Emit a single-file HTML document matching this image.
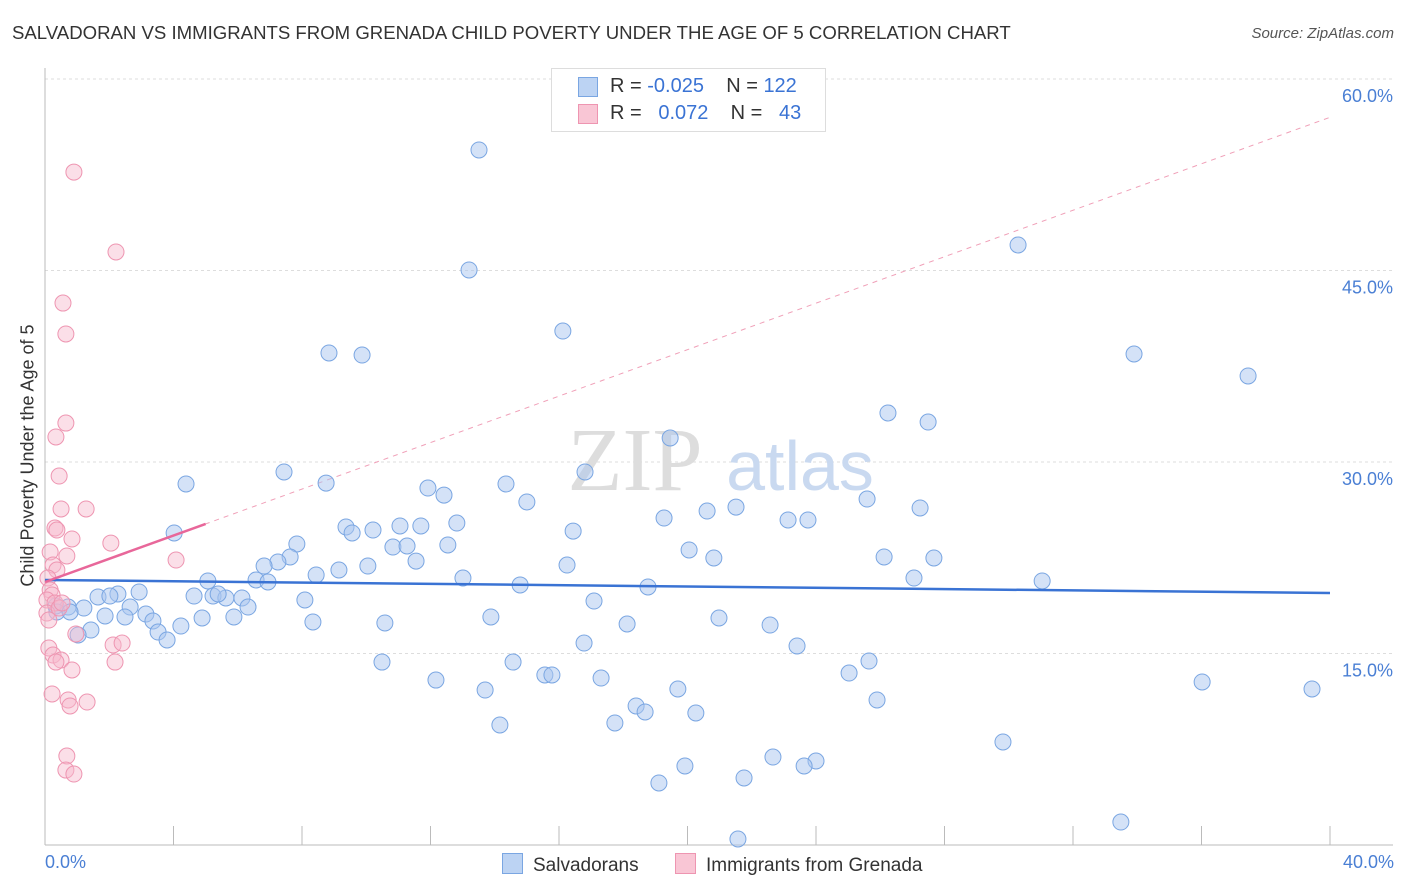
<!DOCTYPE html>
<html><head><meta charset="utf-8"><style>
body{margin:0;background:#fff;font-family:"Liberation Sans",sans-serif;}
#wrap{position:relative;width:1406px;height:892px;overflow:hidden;}
.t{position:absolute;white-space:nowrap;}
</style></head><body>
<div id="wrap">
<div class="t" style="left:12px;top:22px;font-size:18.6px;color:#333;">SALVADORAN VS IMMIGRANTS FROM GRENADA CHILD POVERTY UNDER THE AGE OF 5 CORRELATION CHART</div>
<div class="t" style="right:12px;top:25px;font-size:15px;color:#555;font-style:italic;">Source: ZipAtlas.com</div>
<svg id="svg" width="1406" height="892" style="position:absolute;left:0;top:0"></svg>
</div>
<script>
const blueX=[13.51,13.2,16.12,8.84,9.87,30.29,33.9,37.45,26.24,27.49,19.46,4.39,7.44,8.75,16.81,11.92,12.42,14.35,15.0,25.59,27.24,21.51,20.61,19.27,23.13,23.75,4.02,9.37,9.56,10.21,11.05,11.7,12.82,16.44,7.84,10.83,11.27,12.54,20.05,20.82,26.12,27.67,7.63,7.25,6.82,9.15,10.05,11.55,16.25,5.07,6.57,6.94,8.44,13.01,14.79,18.77,27.05,31.04,2.93,2.27,1.65,2.02,4.64,5.23,5.63,6.13,5.39,6.32,8.09,17.09,0.34,0.72,1.21,2.65,3.14,2.49,1.87,3.36,4.23,4.89,5.88,8.34,10.58,13.88,18.12,20.98,22.57,0.37,0.78,1.43,1.03,3.52,3.8,16.78,23.41,10.49,14.57,25.65,15.56,15.78,25.03,12.17,17.31,13.7,19.7,25.9,18.4,18.68,20.26,17.74,14.16,36.02,39.44,29.82,22.66,24.0,23.63,19.92,21.76,19.11,33.49,21.57];
const blueY=[54.44,45.04,40.26,38.54,38.38,47.0,38.46,36.74,33.84,33.13,31.88,28.28,29.22,28.35,29.22,27.96,27.41,28.28,26.87,27.1,26.4,26.47,26.16,25.61,25.46,25.46,24.44,24.91,24.44,24.67,24.99,24.99,25.22,24.59,23.58,23.34,23.42,23.5,23.11,22.48,22.56,22.48,22.56,22.17,21.85,21.54,21.85,22.24,21.93,20.68,20.76,20.6,21.15,20.91,20.37,20.21,20.91,20.68,19.82,19.66,19.43,19.5,19.5,19.5,19.35,19.35,19.66,18.64,19.19,19.11,18.72,18.64,18.56,18.64,18.09,17.86,17.94,17.55,17.15,17.78,17.86,17.47,17.39,17.86,17.31,17.78,17.23,18.25,18.25,16.84,16.45,16.68,16.06,15.82,15.59,14.33,14.33,14.41,13.32,13.32,13.47,12.92,13.08,12.14,12.22,11.36,10.89,10.42,10.34,9.56,9.4,12.77,12.22,8.07,6.89,6.58,6.19,6.19,5.25,4.86,1.8,0.47];
const pinkX=[0.9,2.21,0.56,0.65,0.65,0.34,0.44,0.5,1.28,0.31,0.37,0.84,2.05,0.68,4.08,0.16,0.25,0.37,0.09,0.16,0.22,0.06,0.31,0.96,2.12,2.4,0.12,0.25,0.5,0.34,2.18,0.84,0.22,0.72,0.78,1.31,0.68,0.65,0.9,0.06,0.12,0.44,0.53];
const pinkY=[52.71,46.45,42.45,40.03,33.05,31.96,28.9,26.32,26.32,24.83,24.67,23.97,23.65,22.64,22.32,22.95,21.93,21.54,20.91,19.97,19.58,19.19,18.96,16.53,15.67,15.82,15.43,14.88,14.49,14.33,14.33,13.71,11.83,11.36,10.89,11.2,6.97,5.87,5.56,18.17,17.62,18.56,18.96];
const blueTrend=[20.76,19.74];
const pinkTrend=[20.6,0.91];
const yTicks=[15,30,45,60];
const NS="http://www.w3.org/2000/svg";
const svg=document.getElementById('svg');
const X=v=>45+v/40*1285, Y=v=>845-v/15*191.5;
function mk(t,a){const e=document.createElementNS(NS,t);for(const k in a)e.setAttribute(k,a[k]);svg.appendChild(e);return e;}
yTicks.forEach(v=>{
 const l=mk('line',{x1:45,x2:1393,y1:Y(v),y2:Y(v),stroke:'#ddd','stroke-dasharray':'3,3'});
 
 
 const t=mk('text',{x:1393,y:Y(v)+23,'text-anchor':'end','font-size':18,fill:'#4a7fd4','font-family':'Liberation Sans, sans-serif'});
 t.textContent=v.toFixed(1)+'%';
 
 
});
const ax=mk('line',{x1:45,x2:45,y1:68,y2:845,stroke:'#bbb'});


const bx=mk('line',{x1:45,x2:1393,y1:845,y2:845,stroke:'#bbb'});


for(let i=0;i<=10;i++){const tk=mk('line',{x1:X(i*4),x2:X(i*4),y1:826,y2:845,stroke:'#bbb'});
 
 }
const wm1=mk('text',{x:635,y:490,'text-anchor':'middle','font-size':90,fill:'#ddd','font-family':'Liberation Serif, serif'});wm1.textContent='ZIP';


const wm2=mk('text',{x:800,y:490,'text-anchor':'middle','font-size':70,fill:'#c9d9f0','font-family':'Liberation Sans, sans-serif'});wm2.textContent='atlas';


const pd=mk('line',{x1:X(0),y1:Y(pinkTrend[0]),x2:X(40),y2:Y(pinkTrend[0]+pinkTrend[1]*40),stroke:'#f0a0b8','stroke-dasharray':'5,5','stroke-width':1});


blueX.forEach((x,i)=>{const c=mk('circle',{cx:X(x),cy:Y(blueY[i]),r:8,fill:'#a9c6ef','fill-opacity':0.5,stroke:'#7aa6e2','stroke-width':1});
 
 });
pinkX.forEach((x,i)=>{const c=mk('circle',{cx:X(x),cy:Y(pinkY[i]),r:8,fill:'#f6b9cb','fill-opacity':0.45,stroke:'#ee95b1','stroke-width':1});
 
 });
const bl=mk('line',{x1:X(0),y1:Y(blueTrend[0]),x2:X(40),y2:Y(blueTrend[1]),stroke:'#3a73d4','stroke-width':2.5});


const pl=mk('line',{x1:X(0),y1:Y(pinkTrend[0]),x2:X(5),y2:Y(pinkTrend[0]+pinkTrend[1]*5),stroke:'#e8679a','stroke-width':2.5});


</script>
<div class="t" style="left:-112px;top:445px;transform:rotate(-90deg);font-size:18px;color:#333;width:280px;text-align:center;">Child Poverty Under the Age of 5</div>
<div class="t" style="left:45px;top:852px;font-size:18px;color:#4a7fd4;">0.0%</div>
<div class="t" style="right:12px;top:852px;font-size:18px;color:#4a7fd4;">40.0%</div>
<div style="position:absolute;left:551px;top:68px;width:273px;height:62px;border:1px solid #ddd;background:#fff;font-size:20px;color:#333;">
 <div style="position:absolute;left:26px;top:8px;width:18px;height:18px;background:#bcd3f3;border:1px solid #7aa6e2"></div>
 <div class="t" style="left:58px;top:6px">R = <span style="color:#3a73d4">-0.025</span>&nbsp;&nbsp;&nbsp; N = <span style="color:#3a73d4">122</span></div>
 <div style="position:absolute;left:26px;top:35px;width:18px;height:18px;background:#f9c6d5;border:1px solid #ee95b1"></div>
 <div class="t" style="left:58px;top:33px">R = &nbsp;&nbsp;<span style="color:#3a73d4">0.072</span>&nbsp;&nbsp;&nbsp; N = &nbsp;&nbsp;<span style="color:#3a73d4">43</span></div>
</div>
<div style="position:absolute;left:502px;top:853px;font-size:19px;color:#333;">
 <span style="display:inline-block;width:19px;height:19px;background:#bcd3f3;border:1px solid #7aa6e2;vertical-align:-3px;margin-right:10px"></span>Salvadorans</div>
<div style="position:absolute;left:675px;top:853px;font-size:19px;color:#333;">
 <span style="display:inline-block;width:19px;height:19px;background:#f9c6d5;border:1px solid #ee95b1;vertical-align:-3px;margin-right:10px"></span>Immigrants from Grenada</div>
</body></html>
